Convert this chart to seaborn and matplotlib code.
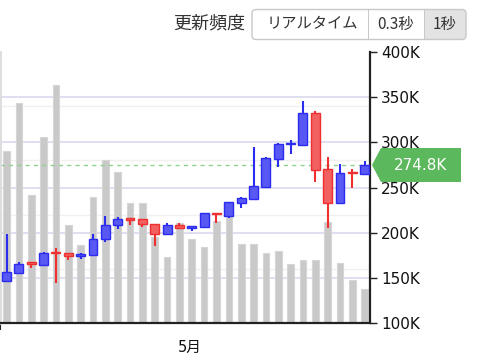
import numpy as np
import pandas as pd
import matplotlib
matplotlib.use("Agg")
import matplotlib.pyplot as plt
import seaborn as sns
from matplotlib.patches import FancyBboxPatch, Rectangle, Polygon
from matplotlib.transforms import IdentityTransform

# candle data (K)
opens = [146.2, 155.7, 166.6, 164.5, 178.0, 177.8, 174.2, 175.3, 192.7, 208.2,
         215.0, 214.8, 209.9, 198.5, 208.2, 205.2, 206.3, 221.5, 218.4, 233.2,
         237.3, 250.9, 281.9, 297.8, 297.4, 332.5, 270.5, 232.8, 267.5, 264.6]
closes = [156.1, 165.3, 165.8, 177.8, 177.2, 174.2, 176.4, 193.0, 208.5, 214.8,
          214.5, 209.6, 198.9, 208.5, 205.2, 207.4, 221.4, 220.2, 233.6, 238.0,
          251.7, 283.0, 298.5, 298.9, 332.5, 269.7, 232.8, 265.7, 265.7, 274.8]
highs = [198.5, 167.9, 167.9, 178.9, 183.4, 177.8, 177.8, 198.5, 218.8, 217.0,
         216.2, 215.5, 209.9, 211.0, 211.0, 207.7, 222.0, 221.5, 234.3, 239.8,
         294.5, 283.5, 299.0, 302.6, 346.1, 334.7, 284.1, 276.0, 270.2, 279.3]
lows = [146.2, 155.7, 160.6, 164.5, 143.9, 169.7, 171.2, 175.3, 190.0, 203.7,
        208.2, 206.6, 185.2, 197.4, 203.7, 202.2, 205.5, 210.4, 216.6, 227.0,
        237.3, 250.9, 272.4, 287.4, 297.0, 256.4, 205.5, 232.8, 249.1, 263.8]
volume = [3.18, 4.05, 2.36, 3.43, 4.39, 1.81, 1.43, 2.33, 3.00, 2.79,
          2.22, 2.22, 1.58, 1.22, 1.85, 1.55, 1.40, 1.89, 1.96, 1.45,
          1.45, 1.30, 1.32, 1.09, 1.17, 1.17, 1.86, 1.11, 0.79, 0.63]

price_ticks = [100, 150, 200, 250, 300, 350, 400]
price_labels = ['100K', '150K', '200K', '250K', '300K', '350K', '400K']
last_price = 274.8
month_label = '5月'
month_pos = 14.85

header_label = '更新頻度'
buttons = ['リアルタイム', '0.3秒', '1秒']

df = pd.DataFrame({'open': opens, 'close': closes, 'high': highs,
                   'low': lows, 'volume': volume})
df['idx'] = np.arange(len(df))

sns.set_style("white")
plt.rcParams['font.family'] = ['DejaVu Sans', 'Noto Sans CJK JP']

fig = plt.figure(figsize=(4.8, 3.56), dpi=100)
axv = fig.add_axes([0, 1 - 323 / 356, 370 / 480, 271 / 356])
ax = axv.twinx()
axv.set_zorder(1)
ax.set_zorder(2)
ax.patch.set_visible(False)

# volume bars
sns.barplot(data=df, x='idx', y='volume', color='#c9c9c9', saturation=1,
            width=0.54, edgecolor='#d6d6d6', linewidth=0.8, ax=axv)
# volume axis: 0..5 maps onto the 100K..400K price range
axv.set_ylim(0, 5)
axv.set_yticks([(p - 100) / 60 for p in price_ticks[1:-1]])
axv.set_yticks([1, 2, 3, 4], minor=True)
axv.yaxis.grid(True, which='major', color='#dcdcf0', lw=1.3)
axv.yaxis.grid(True, which='minor', color='#f0f0f0', lw=1.0)
axv.set_axisbelow(True)
axv.tick_params(axis='y', which='both', left=False, labelleft=False)
axv.set_ylabel('')
axv.set_xlabel('')
for s in axv.spines.values():
    s.set_visible(False)

# x axis (shared): month label and left edge tick
axv.set_xlim(-0.53, 29.43)
axv.set_xticks([month_pos])
axv.set_xticklabels([month_label])
axv.set_xticks([-0.53], minor=True)
axv.tick_params(axis='x', which='major', bottom=True, length=0, pad=12,
                labelsize=10.5, labelcolor='#111111')
axv.tick_params(axis='x', which='minor', bottom=True, length=5, width=1.5,
                color='#222222')

# candles
up = df['close'] >= df['open']
fill = np.where(up, '#5858f2', '#f26060')
edge = np.where(up, '#2c2cf0', '#f03030')
bottoms = np.minimum(df['open'], df['close'])
heights = np.maximum((df['close'] - df['open']).abs(), 1.3)
ax.vlines(df['idx'], df['low'], df['high'], colors=edge, lw=1.5, zorder=2)
ax.bar(df['idx'], heights, bottom=bottoms, width=0.72, color=fill,
       edgecolor=edge, linewidth=1.0, zorder=3)
ax.axhline(last_price, color='#90d090', lw=1, ls=(0, (3, 3)), zorder=1)

ax.set_ylim(100, 400)
ax.set_xlim(-0.53, 29.43)
ax.set_yticks(price_ticks)
ax.set_yticklabels(price_labels)
ax.tick_params(axis='y', which='major', right=True, length=5, width=1,
               color='#222222', pad=3, labelsize=11, labelcolor='#111111')
ax.spines['top'].set_visible(False)
ax.spines['right'].set_color('#222222')
ax.spines['right'].set_linewidth(1.6)
ax.spines['bottom'].set_color('#222222')
ax.spines['bottom'].set_linewidth(1.6)
ax.spines['left'].set_color('#dddddd')
ax.spines['left'].set_linewidth(2)

# current price tag
H = 356
ident = IdentityTransform()
tag = Polygon([(372, H - 165), (381, H - 148), (461, H - 148),
               (461, H - 182), (381, H - 182)], closed=True,
              facecolor='#5cb85c', edgecolor='none', transform=ident)
fig.patches.append(tag)
fig.text(421 / 480, 1 - 165 / H, f'{last_price}K', color='white',
         fontsize=11, ha='center', va='center')

# header buttons
fig.text(245 / 480, 1 - 23 / H, header_label, fontsize=13, ha='right',
         va='center', family=['Noto Sans CJK JP'], color='#333333')
x0, x1, y0, y1 = 252, 466, H - 39.5, H - 9.5
rs = 'round,pad=0,rounding_size=4'
fig.patches.append(FancyBboxPatch((x0, y0), x1 - x0, y1 - y0, boxstyle=rs,
                                  facecolor='#e3e3e3', edgecolor='none',
                                  transform=ident))
fig.patches.append(FancyBboxPatch((x0, y0), 440 - x0, y1 - y0, boxstyle=rs,
                                  facecolor='white', edgecolor='none',
                                  transform=ident))
fig.patches.append(Rectangle((424, y0), 16, y1 - y0, facecolor='#e3e3e3',
                             edgecolor='none', transform=ident))
fig.patches.append(FancyBboxPatch((x0, y0), x1 - x0, y1 - y0, boxstyle=rs,
                                  facecolor='none', edgecolor='#c8c8c8',
                                  lw=1, transform=ident))
for xd in [368, 424]:
    fig.patches.append(Rectangle((xd, y0), 0.8, y1 - y0, facecolor='#c8c8c8',
                                 edgecolor='none', transform=ident))
for label, xc in zip(buttons, [312, 396, 444]):
    fig.text(xc / 480, 1 - 24 / H, label, fontsize=11, ha='center',
             va='center', family=['Noto Sans CJK JP'], color='#333333')

fig.savefig('out.png', dpi=100)
